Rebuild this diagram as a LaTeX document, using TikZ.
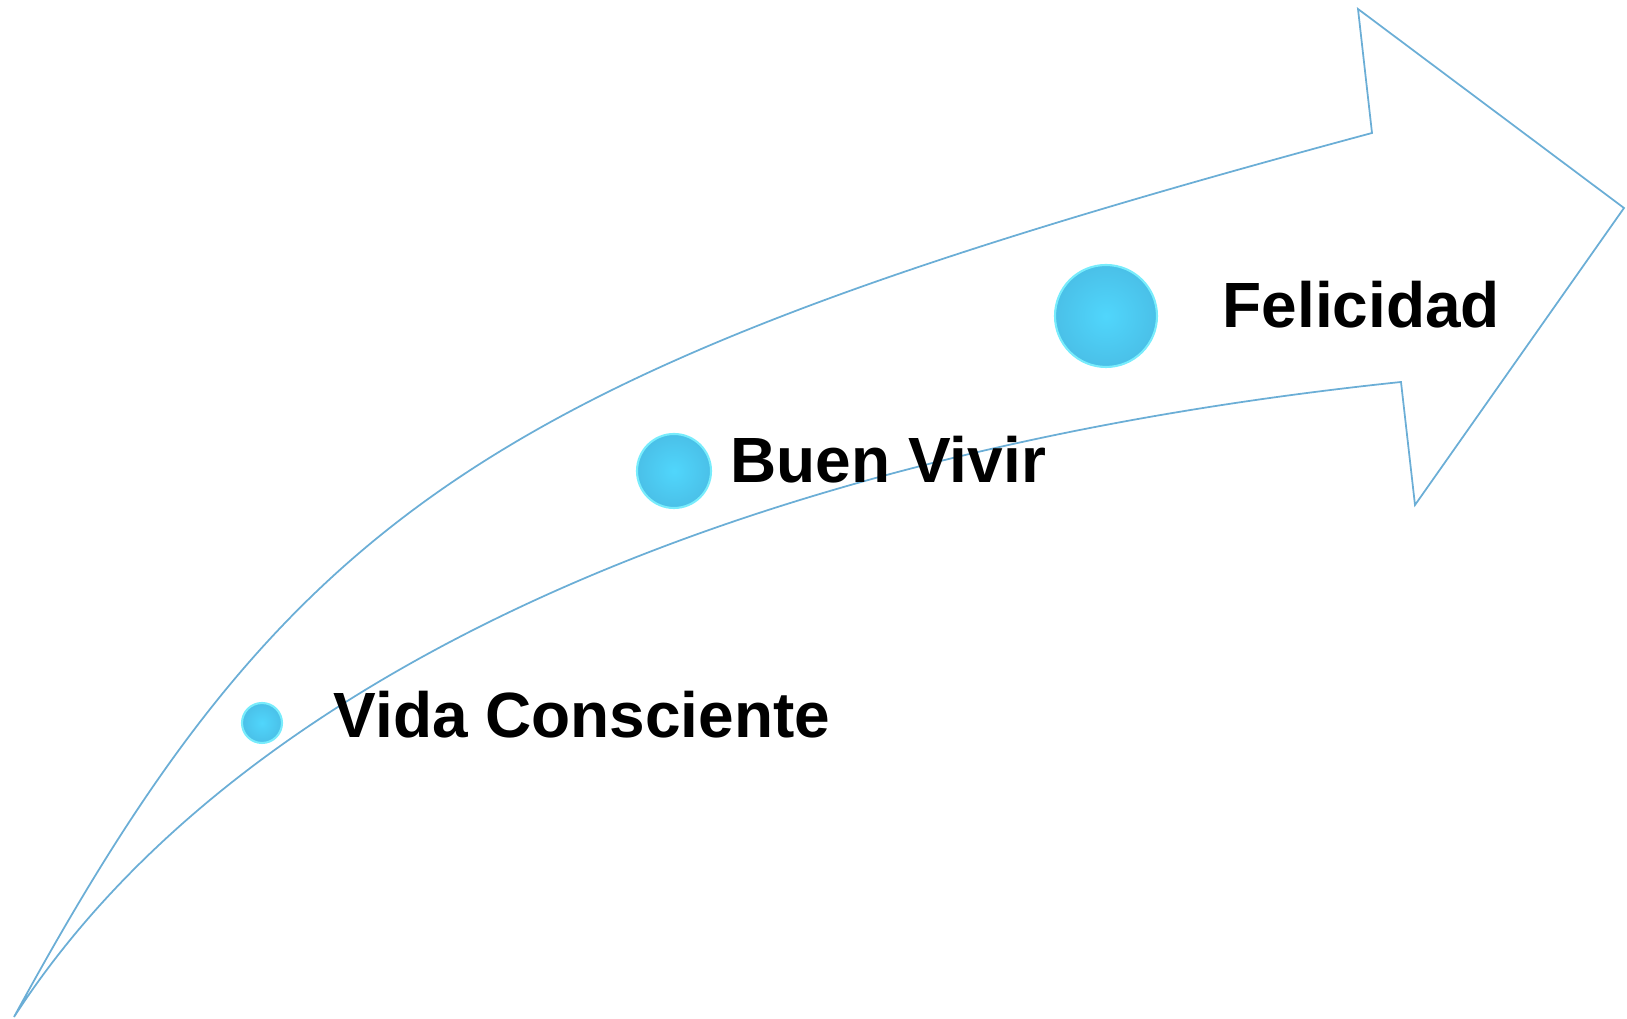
\documentclass[tikz,border=0pt]{standalone}
\usepackage{fontspec}
\setmainfont{Liberation Sans}
\usetikzlibrary{positioning}
\definecolor{arrowblue}{RGB}{107,174,214}
\definecolor{bubble}{RGB}{80,214,252}
\definecolor{bubbleedge}{RGB}{74,192,232}
\definecolor{bubblerim}{RGB}{120,236,252}
\tikzset{
	arrowline/.style={draw=arrowblue, line width=0.5pt, line join=miter},
	dot/.style={circle, inner sep=0pt, draw=bubblerim, line width=0.6pt, shading=radial, inner color=bubble, outer color=bubbleedge},
	label/.style={anchor=base west, inner sep=0pt, font=\fontsize{18.2}{22}\selectfont\bfseries}
}

\begin{document}
\begin{tikzpicture}
		%%%%% START %%%%%
		
		\useasboundingbox (0, 0) rectangle (16.27, 10.19);
		
		% bent arrow
		\draw[arrowline] (0.14, 0.02) .. controls (2.95, 5.18) and (4.99, 6.51) .. (13.72, 8.86)
			-- (13.58, 10.10) -- (16.24, 8.11) -- (14.15, 5.14) -- (14.01, 6.37)
			.. controls (7.13, 5.65) and (2.27, 3.32) .. cycle;
		
		% steps
		\node[dot, minimum size=0.40cm] (vidadot) at (2.62, 2.96) {};
		\node[dot, minimum size=0.74cm] (buendot) at (6.74, 5.48) {};
		\node[dot, minimum size=1.02cm] (felidot) at (11.06, 7.03) {};
		
		\node[label] (vida) at (3.33, 2.81) {Vida Consciente};
		\node[label] (buen) at (7.30, 5.36) {Buen Vivir};
		\node[label] (feli) at (12.22, 6.91) {Felicidad};
		
		%%%%% END %%%%%
	\end{tikzpicture}
\end{document}
